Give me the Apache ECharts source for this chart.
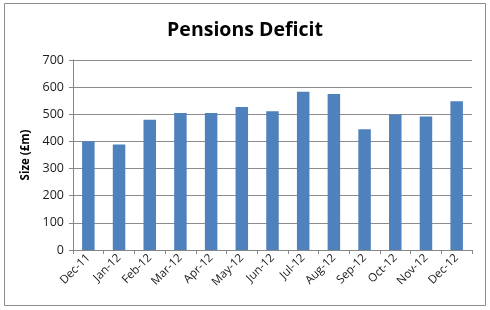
<!DOCTYPE html>
<html><head><meta charset="utf-8">
<script src="https://cdn.jsdelivr.net/npm/echarts@6/dist/echarts.min.js"></script>
<style>html,body{margin:0;padding:0;background:#fff}#c{width:490px;height:310px}</style>
</head><body><div id="c"></div>
<script>
const categories = ["Dec-11","Jan-12","Feb-12","Mar-12","Apr-12","May-12","Jun-12","Jul-12","Aug-12","Sep-12","Oct-12","Nov-12","Dec-12"];
const deficit = [401, 389, 480, 505, 505, 527, 511, 583, 575, 445, 499, 492, 548];
const yTicks = [0, 100, 200, 300, 400, 500, 600, 700];

const chart = echarts.init(document.getElementById('c'), null, {renderer: 'canvas'});
chart.setOption({
  animation: false,
  backgroundColor: '#fff',
  graphic: [{type: 'rect', shape: {x: 4.5, y: 3.5, width: 481, height: 302}, style: {fill: 'none', stroke: '#8c8c8c', lineWidth: 1}}],
  title: {text: 'Pensions Deficit', left: 'center', top: 15,
    textStyle: {fontFamily: 'Open Sans', fontWeight: 'bold', fontSize: 19.5, color: '#000'}},
  grid: {left: 73, right: 18, top: 60, bottom: 60},
  xAxis: {type: 'category', data: categories, boundaryGap: true,
    axisLine: {lineStyle: {color: '#868686'}},
    axisTick: {show: true, alignWithLabel: false, length: 4, lineStyle: {color: '#868686'}},
    axisLabel: {rotate: 45, color: '#1a1a1a', fontFamily: 'Open Sans', fontSize: 11.5, margin: 6, interval: 0}},
  yAxis: {type: 'value', min: 0, max: 700, interval: 100,
    name: 'Size (£m)', nameLocation: 'middle', nameGap: 41, nameRotate: 90, nameMoveOverlap: false,
    nameTextStyle: {fontFamily: 'Open Sans', fontWeight: 'bold', fontSize: 11.5, color: '#000'},
    axisLine: {show: true, lineStyle: {color: '#868686'}},
    axisTick: {show: true, length: 4, lineStyle: {color: '#868686'}},
    axisLabel: {color: '#1a1a1a', fontFamily: 'Open Sans', fontSize: 12.5, margin: 9,
      formatter: v => yTicks.includes(v) ? String(v) : ''},
    splitLine: {lineStyle: {color: '#8c8c8c'}}},
  series: [{type: 'bar', data: deficit, barWidth: 12.5,
    itemStyle: {color: '#4F81BD'}}]
});
</script></body></html>
